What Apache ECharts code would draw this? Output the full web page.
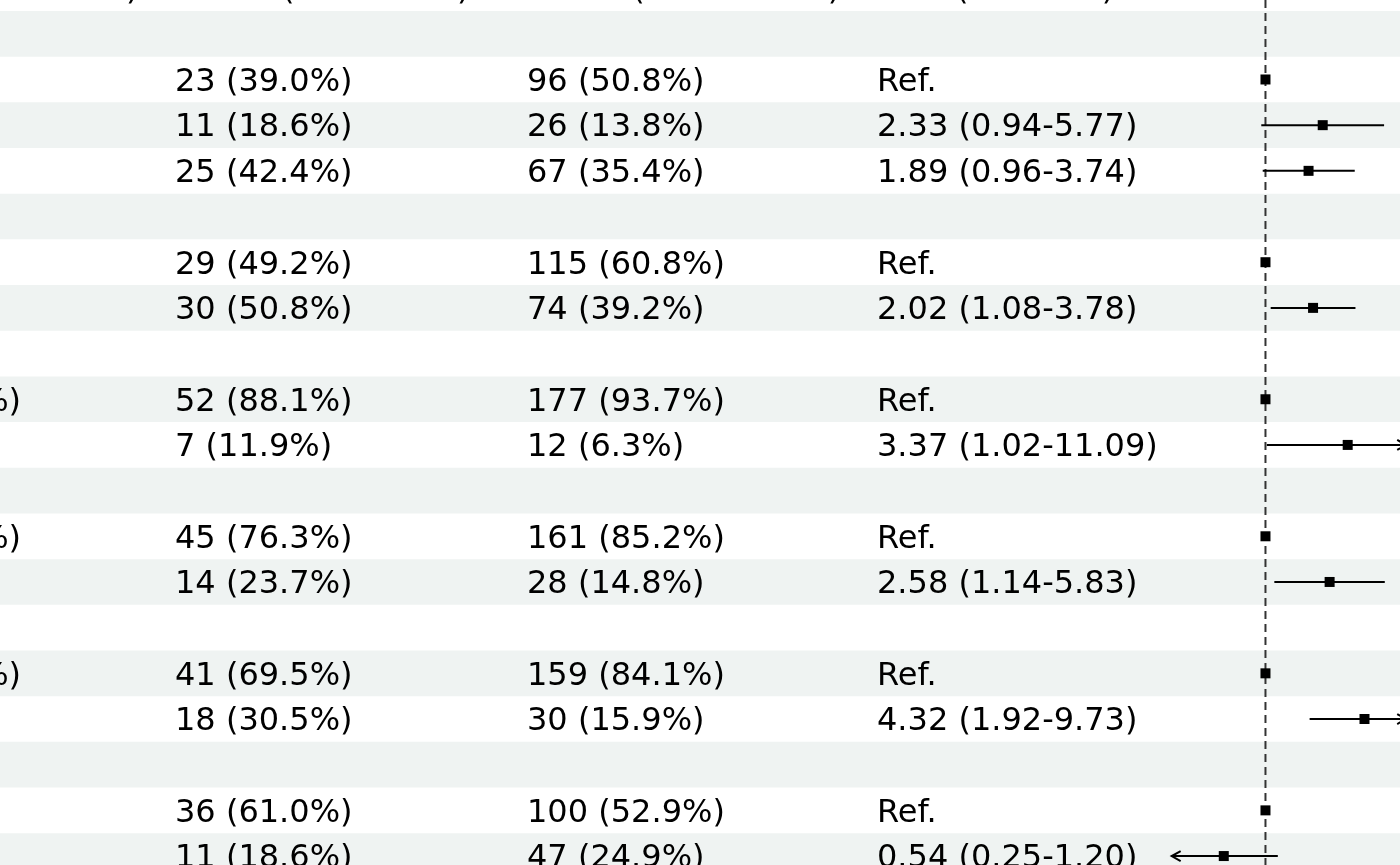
<!DOCTYPE html>
<html>
<head>
<meta charset="utf-8">
<title>Forest plot</title>
<script src="https://cdn.jsdelivr.net/npm/echarts@6/dist/echarts.min.js"></script>
<style>
    html, body { margin: 0; padding: 0; background: #fff; }
    #chart { width: 1400px; height: 865px; }
</style>
</head>
<body>
<div id="chart"></div>
<script>
// column headers (only the bottom of this row is inside the picture)
var headers = ['Variables (N = 248)', 'Death (Total = 59)', 'Cured (Total = 189)', 'AOR (95% C.I.)'];

// one entry per table row, top to bottom
var rowLabels = ['Age group', '<50', '50-64', '\u226565', 'Sex', 'Female', 'Male',
    'Neutrophil', 'Low (<75%)', 'High', 'Eosinophil', 'Low (<20%)', 'High',
    'Monocyte', 'Low (<10%)', 'High', 'BMI', 'Normal', 'Obese'];
var deathCounts = ['', '23 (39.0%)', '11 (18.6%)', '25 (42.4%)', '', '29 (49.2%)', '30 (50.8%)',
    '', '52 (88.1%)', '7 (11.9%)', '', '45 (76.3%)', '14 (23.7%)',
    '', '41 (69.5%)', '18 (30.5%)', '', '36 (61.0%)', '11 (18.6%)'];
var curedCounts = ['', '96 (50.8%)', '26 (13.8%)', '67 (35.4%)', '', '115 (60.8%)', '74 (39.2%)',
    '', '177 (93.7%)', '12 (6.3%)', '', '161 (85.2%)', '28 (14.8%)',
    '', '159 (84.1%)', '30 (15.9%)', '', '100 (52.9%)', '47 (24.9%)'];
var orLabels = ['', 'Ref.', '2.33 (0.94-5.77)', '1.89 (0.96-3.74)', '', 'Ref.', '2.02 (1.08-3.78)',
    '', 'Ref.', '3.37 (1.02-11.09)', '', 'Ref.', '2.58 (1.14-5.83)',
    '', 'Ref.', '4.32 (1.92-9.73)', '', 'Ref.', '0.54 (0.25-1.20)'];
var estimates = [null, 1, 2.33, 1.89, null, 1, 2.02, null, 1, 3.37, null, 1, 2.58,
    null, 1, 4.32, null, 1, 0.54];
var lowerCI = [null, null, 0.94, 0.96, null, null, 1.08, null, null, 1.02, null, null, 1.14,
    null, null, 1.92, null, null, 0.25];
var upperCI = [null, null, 5.77, 3.74, null, null, 3.78, null, null, 11.09, null, null, 5.83,
    null, null, 9.73, null, null, 1.20];

// CI limits of the forest column (beyond them an arrow is drawn)
var xLimits = [0.25, 8];
// part of the log axis that falls inside the picture
var xVisible = [0.255, 7.3];

// layout
var COL_X = [-175, 175, 527, 877];   // left edge of each text column, px
var ROW_RANGE = [-0.740, 18.196];    // visible row span (rows are ~45.7px high)
var TEXT_DY = 3;
var FONT = '32px "DejaVu Sans"';
var STRIPE = '#eff3f2';

var chart = echarts.init(document.getElementById('chart'));

var stripeRows = [];
var textRows = [[-1]];
var forestRows = [];
for (var i = 0; i < rowLabels.length; i++) {
    if (i % 2 === 0) {
        stripeRows.push([i]);
    }
    textRows.push([i]);
    if (estimates[i] != null) {
        forestRows.push([i, estimates[i],
            lowerCI[i] == null ? '-' : lowerCI[i],
            upperCI[i] == null ? '-' : upperCI[i]]);
    }
}

function renderStripe(params, api) {
    var k = api.value(0);
    var p0 = api.coord([0, k - 0.5]);
    var p1 = api.coord([1400, k + 0.5]);
    return {
        type: 'rect',
        shape: { x: p0[0], y: p0[1], width: p1[0] - p0[0], height: p1[1] - p0[1] },
        style: { fill: STRIPE }
    };
}

function renderRow(params, api) {
    var k = api.value(0);
    var texts = k < 0 ? headers : [rowLabels[k], deathCounts[k], curedCounts[k], orLabels[k]];
    var y = api.coord([0, k])[1] + TEXT_DY;
    var children = [];
    for (var c = 0; c < texts.length; c++) {
        children.push({
            type: 'text',
            x: api.coord([COL_X[c], k])[0],
            y: y,
            style: { text: texts[c], font: FONT, fill: '#000', align: 'left', verticalAlign: 'middle' }
        });
    }
    return { type: 'group', children: children };
}

function arrowHead(x, y, dir) {
    return {
        type: 'polyline',
        shape: { points: [[x + dir * 9, y - 5], [x, y], [x + dir * 9, y + 5]] },
        style: { stroke: '#000', fill: null, lineWidth: 2 }
    };
}

function renderForest(params, api) {
    var k = api.value(0);
    var est = api.value(1);
    var lo = api.value(2);
    var hi = api.value(3);
    var c = api.coord([est, k]);
    var children = [];
    if (!isNaN(lo) && !isNaN(hi)) {
        var xl = api.coord([Math.max(lo, xLimits[0]), k])[0];
        var xr = api.coord([Math.min(hi, xLimits[1]), k])[0];
        children.push({
            type: 'line',
            shape: { x1: xl, y1: c[1], x2: xr, y2: c[1] },
            style: { stroke: '#000', lineWidth: 2 }
        });
        if (lo <= xLimits[0]) {
            children.push(arrowHead(xl, c[1], 1));
        }
        if (hi >= xLimits[1]) {
            children.push(arrowHead(xr, c[1], -1));
        }
    }
    children.push({
        type: 'rect',
        shape: { x: c[0] - 5, y: c[1] - 5, width: 10, height: 10 },
        style: { fill: '#000' }
    });
    return { type: 'group', children: children };
}

var hiddenY = { type: 'value', inverse: true, min: ROW_RANGE[0], max: ROW_RANGE[1], show: false };

chart.setOption({
    animation: false,
    backgroundColor: '#fff',
    grid: [
        { left: 0, top: 0, right: 0, bottom: 0 },
        { left: 1173, top: 0, right: 0, bottom: 0 }
    ],
    xAxis: [
        { type: 'value', gridIndex: 0, min: 0, max: 1400, show: false },
        { type: 'log', logBase: 2, gridIndex: 1, min: xVisible[0], max: xVisible[1], show: false }
    ],
    yAxis: [
        echarts.util.extend({ gridIndex: 0 }, hiddenY),
        echarts.util.extend({ gridIndex: 1 }, hiddenY)
    ],
    series: [
        {
            type: 'custom', name: 'stripes', xAxisIndex: 0, yAxisIndex: 0,
            renderItem: renderStripe, data: stripeRows, silent: true, z: 1
        },
        {
            type: 'custom', name: 'table', xAxisIndex: 0, yAxisIndex: 0,
            renderItem: renderRow, data: textRows, silent: true, z: 3, clip: false
        },
        {
            type: 'line', name: 'ref', xAxisIndex: 1, yAxisIndex: 1,
            data: [[1, ROW_RANGE[0]], [1, ROW_RANGE[1]]],
            symbol: 'none', silent: true, z: 4,
            lineStyle: { color: '#333', width: 2, type: [8, 5] }
        },
        {
            type: 'custom', name: 'forest', xAxisIndex: 1, yAxisIndex: 1,
            renderItem: renderForest, data: forestRows, silent: true, z: 5, clip: false
        }
    ]
});
</script>
</body>
</html>
